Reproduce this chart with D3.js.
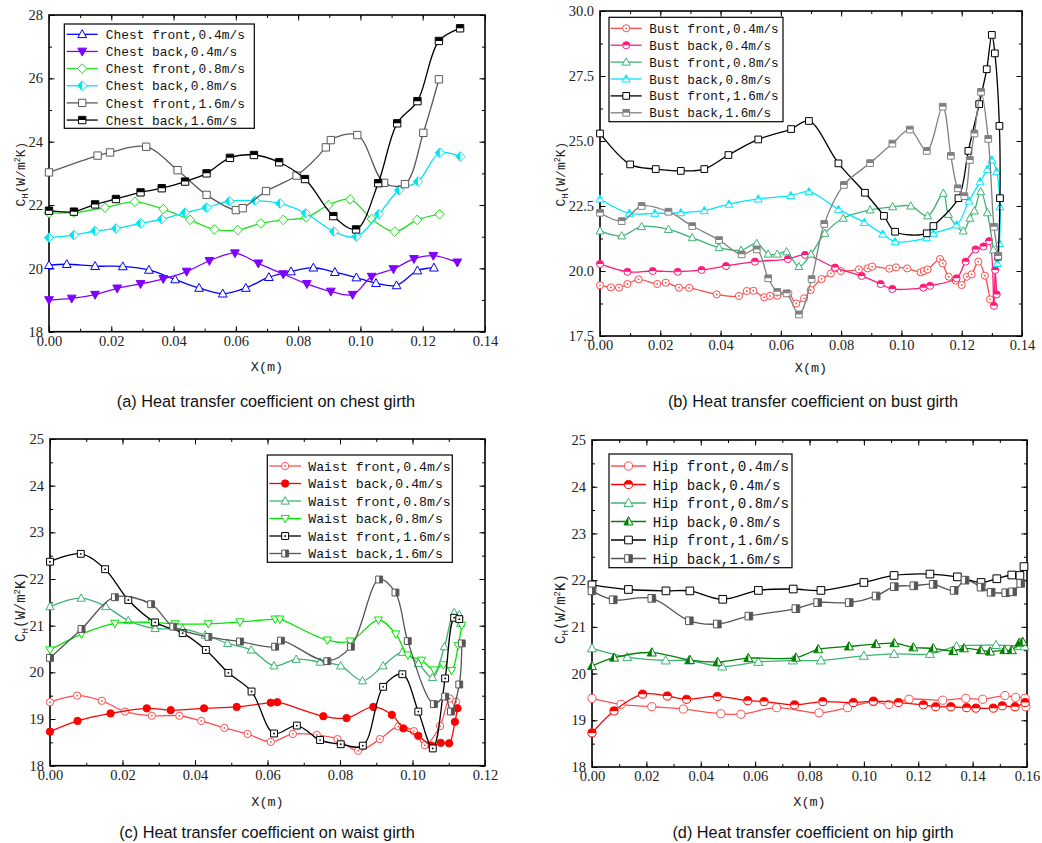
<!DOCTYPE html>
<html>
<head>
<meta charset="utf-8">
<script src="https://cdn.jsdelivr.net/npm/d3@7/dist/d3.min.js"></script>
<style>body{margin:0;background:#fff}</style>
</head>
<body>
<script>
// ---- (a) chest girth, [x (m), CH]
const chestFront04 = [[0,20.1],[0.0057,20.13],[0.0148,20.07],[0.0237,20.06],[0.0321,19.95],[0.0405,19.65],[0.0482,19.38],[0.0558,19.2],[0.0632,19.38],[0.0706,19.72],[0.0777,19.9],[0.0849,20.02],[0.0918,19.88],[0.0987,19.71],[0.105,19.53],[0.1116,19.46],[0.1183,19.93],[0.1236,20.02]];
const chestBack04 = [[0,19.0],[0.0073,19.05],[0.0148,19.17],[0.0219,19.37],[0.0294,19.51],[0.0367,19.67],[0.0442,19.9],[0.0515,20.24],[0.0597,20.48],[0.0672,20.16],[0.0752,19.82],[0.0828,19.51],[0.0905,19.27],[0.0975,19.17],[0.1036,19.74],[0.1106,19.98],[0.1172,20.3],[0.1234,20.4],[0.1311,20.19]];
const chestFront08 = [[0,21.75],[0.008,21.76],[0.018,21.92],[0.0276,22.1],[0.0367,21.87],[0.0453,21.53],[0.0531,21.23],[0.0606,21.21],[0.068,21.42],[0.0752,21.53],[0.0826,21.61],[0.0898,22.0],[0.0967,22.18],[0.1036,21.56],[0.111,21.16],[0.1182,21.53],[0.1254,21.71]];
const chestBack08 = [[0,20.97],[0.008,21.05],[0.0148,21.18],[0.0215,21.26],[0.0294,21.42],[0.0362,21.55],[0.0437,21.76],[0.0506,21.92],[0.0579,22.12],[0.0662,22.14],[0.0742,22.05],[0.0824,21.74],[0.0915,21.16],[0.0987,21.0],[0.1059,21.71],[0.1124,22.47],[0.1185,22.74],[0.1255,23.65],[0.1321,23.53]];
const chestFront16 = [[0,23.03],[0.0156,23.56],[0.0196,23.66],[0.0312,23.84],[0.0413,23.1],[0.0506,22.32],[0.06,21.84],[0.0622,21.9],[0.0697,22.44],[0.0795,22.93],[0.0889,23.82],[0.0905,24.05],[0.099,24.21],[0.1076,22.7],[0.1143,22.66],[0.1202,24.28],[0.1252,25.97]];
const chestBack16 = [[0,21.82],[0.008,21.79],[0.0148,22.02],[0.0215,22.19],[0.0294,22.4],[0.0362,22.53],[0.0437,22.74],[0.0506,23.0],[0.0581,23.49],[0.0658,23.58],[0.0739,23.35],[0.0822,22.82],[0.0913,21.65],[0.0986,21.23],[0.1057,22.69],[0.1118,24.58],[0.1183,25.28],[0.1252,27.18],[0.132,27.58]];
const chestLabels = ["Chest front,0.4m/s","Chest back,0.4m/s","Chest front,0.8m/s","Chest back,0.8m/s","Chest front,1.6m/s","Chest back,1.6m/s"];

// ---- (b) bust girth
const bustFront04 = [[0,19.45],[0.0036,19.37],[0.0063,19.36],[0.0091,19.5],[0.0128,19.68],[0.019,19.5],[0.0218,19.55],[0.0262,19.36],[0.0296,19.35],[0.0387,19.1],[0.0461,19.04],[0.0487,19.23],[0.0509,19.24],[0.0545,18.99],[0.0564,19.04],[0.0588,19.05],[0.0625,19.14],[0.0651,18.75],[0.0677,18.95],[0.0699,19.27],[0.0735,19.69],[0.0766,19.91],[0.0779,20.1],[0.0799,20.0],[0.0859,20.06],[0.0888,20.1],[0.0903,20.17],[0.096,20.09],[0.0982,20.14],[0.1019,20.1],[0.1064,19.95],[0.1075,20.0],[0.1087,20.06],[0.1128,20.46],[0.1137,20.29],[0.1157,19.78],[0.118,19.63],[0.12,19.46],[0.1217,19.78],[0.1233,19.87],[0.1255,20.36],[0.1277,19.82],[0.1294,18.91]];
const bustBack04 = [[0,20.27],[0.0091,19.97],[0.0175,20.0],[0.0258,19.97],[0.0337,20.04],[0.0418,20.19],[0.0514,20.36],[0.0623,20.46],[0.068,20.62],[0.078,20.13],[0.0868,19.81],[0.0931,19.5],[0.097,19.31],[0.1073,19.36],[0.1095,19.43],[0.1183,19.72],[0.1213,20.36],[0.1246,20.83],[0.1272,20.94],[0.1291,21.15],[0.1307,18.66],[0.1311,20.04],[0.1316,19.1]];
const bustFront08 = [[0,21.54],[0.0072,21.35],[0.0138,21.71],[0.0227,21.6],[0.0306,21.28],[0.0395,20.9],[0.0468,20.8],[0.052,21.06],[0.0558,20.65],[0.0588,20.65],[0.0619,20.74],[0.066,20.17],[0.07,20.65],[0.0746,21.45],[0.0807,22.03],[0.0896,22.35],[0.0971,22.47],[0.1031,22.5],[0.1087,22.12],[0.1139,22.99],[0.1156,22.18],[0.1205,21.54],[0.1227,22.03],[0.1242,22.31],[0.1263,23.05],[0.1285,22.24],[0.1305,20.81]];
const bustBack08 = [[0,22.77],[0.0097,22.22],[0.0182,22.22],[0.0268,22.24],[0.0346,22.32],[0.0428,22.57],[0.0525,22.77],[0.0633,22.9],[0.0693,23.05],[0.0791,22.37],[0.0877,21.87],[0.0938,21.42],[0.0979,21.13],[0.1084,21.28],[0.1106,21.45],[0.1183,21.77],[0.1224,22.69],[0.1261,23.43],[0.1285,23.91],[0.13,24.27],[0.1316,23.82],[0.1327,22.47],[0.1325,21.06],[0.1318,20.29]];
const bustFront16 = [[0,25.29],[0.01,24.1],[0.0185,23.92],[0.0268,23.85],[0.0346,23.92],[0.0426,24.46],[0.0525,25.06],[0.0634,25.46],[0.0693,25.77],[0.0791,24.14],[0.0879,23.01],[0.0942,22.12],[0.0979,21.51],[0.1084,21.45],[0.1106,21.73],[0.1189,22.8],[0.1222,24.62],[0.1258,26.42],[0.1283,27.76],[0.13,29.08],[0.131,28.37],[0.1325,25.58],[0.1327,22.8],[0.1321,20.55]];
const bustBack16 = [[0,22.24],[0.0072,21.92],[0.0138,22.5],[0.0227,22.28],[0.0306,21.73],[0.0395,21.19],[0.047,20.64],[0.052,20.83],[0.0558,19.72],[0.0588,19.2],[0.0619,19.14],[0.066,18.33],[0.0702,19.69],[0.0744,21.81],[0.0809,23.31],[0.0896,24.15],[0.097,24.9],[0.1028,25.44],[0.1084,24.62],[0.1137,26.32],[0.1164,24.43],[0.1187,23.18],[0.1209,22.88],[0.1227,24.27],[0.1242,25.29],[0.1264,26.89],[0.1288,25.08],[0.1307,21.7],[0.1321,20.58]];
const bustLabels = ["Bust front,0.4m/s","Bust back,0.4m/s","Bust front,0.8m/s","Bust back,0.8m/s","Bust front,1.6m/s","Bust back,1.6m/s"];

// ---- (c) waist girth
const waistFront04 = [[0,19.36],[0.0075,19.5],[0.0143,19.39],[0.0207,19.16],[0.0281,19.07],[0.0357,19.07],[0.0417,18.96],[0.0481,18.81],[0.0545,18.68],[0.0609,18.51],[0.067,18.68],[0.0736,18.66],[0.0793,18.57],[0.085,18.32],[0.091,18.57],[0.0961,18.84],[0.1004,18.74],[0.1034,18.44],[0.1076,18.85],[0.1103,19.44],[0.112,19.37]];
const waistBack04 = [[0,18.73],[0.0076,18.96],[0.0167,19.12],[0.0267,19.23],[0.0333,19.19],[0.0425,19.23],[0.0515,19.26],[0.0609,19.35],[0.0627,19.36],[0.0754,19.06],[0.0818,19.02],[0.0892,19.26],[0.0943,19.09],[0.0975,18.8],[0.1016,18.64],[0.1053,18.43],[0.1078,18.49],[0.1101,18.48],[0.1117,18.94],[0.1124,19.23]];
const waistFront08 = [[0,21.41],[0.0086,21.59],[0.0154,21.41],[0.0216,21.11],[0.029,20.94],[0.0366,20.93],[0.0428,20.8],[0.049,20.62],[0.0555,20.48],[0.0618,20.14],[0.0679,20.28],[0.0745,20.22],[0.0802,20.14],[0.0862,19.82],[0.0919,20.14],[0.0972,20.43],[0.1016,20.19],[0.1055,19.89],[0.1088,20.55],[0.1115,21.28],[0.1129,21.23],[0.1133,21.05]];
const waistBack08 = [[0,20.48],[0.0087,20.82],[0.0179,21.05],[0.0281,21.07],[0.0345,21.04],[0.0437,21.04],[0.0524,21.08],[0.0621,21.14],[0.0634,21.14],[0.0765,20.69],[0.0828,20.67],[0.0906,21.12],[0.0954,20.82],[0.0987,20.37],[0.1025,20.26],[0.106,20.05],[0.1085,20.16],[0.1108,20.04],[0.1126,20.57],[0.1136,21.01]];
const waistFront16 = [[0,22.37],[0.0085,22.54],[0.0152,22.21],[0.0216,21.55],[0.029,21.07],[0.0366,20.84],[0.043,20.48],[0.0492,19.99],[0.0556,19.59],[0.0618,18.69],[0.0681,18.86],[0.0745,18.55],[0.0802,18.46],[0.0863,18.43],[0.0919,19.69],[0.0972,19.96],[0.1016,19.16],[0.1056,18.37],[0.109,19.87],[0.1115,21.17],[0.1129,21.14]];
const waistBack16 = [[0,20.31],[0.0087,20.93],[0.0179,21.61],[0.0279,21.46],[0.034,20.98],[0.0437,20.76],[0.0524,20.66],[0.0621,20.55],[0.0637,20.68],[0.0765,20.24],[0.083,20.55],[0.0908,21.99],[0.0953,21.71],[0.0987,20.67],[0.1059,19.32],[0.109,19.48],[0.1106,19.16],[0.1129,19.74],[0.1136,20.62]];
const waistLabels = ["Waist front,0.4m/s","Waist back,0.4m/s","Waist front,0.8m/s","Waist back,0.8m/s","Waist front,1.6m/s","Waist back,1.6m/s"];

// ---- (d) hip girth
const hipFront04 = [[0,19.47],[0.0107,19.34],[0.022,19.29],[0.0336,19.24],[0.0474,19.14],[0.0548,19.13],[0.0679,19.27],[0.0835,19.16],[0.094,19.27],[0.1035,19.4],[0.1092,19.34],[0.1166,19.45],[0.129,19.43],[0.1375,19.47],[0.1437,19.45],[0.1519,19.53],[0.1558,19.49],[0.1593,19.47],[0.1596,19.29]];
const hipBack04 = [[0,18.73],[0.0081,19.2],[0.0186,19.56],[0.0277,19.52],[0.0348,19.45],[0.0461,19.51],[0.0573,19.42],[0.0633,19.4],[0.0745,19.33],[0.0849,19.4],[0.0961,19.38],[0.1035,19.41],[0.1127,19.38],[0.1219,19.33],[0.1264,19.29],[0.132,19.29],[0.1378,19.27],[0.1412,19.26],[0.1476,19.26],[0.1509,19.31],[0.1556,19.29],[0.1593,19.38]];
const hipFront08 = [[0,20.54],[0.013,20.35],[0.0271,20.28],[0.0357,20.28],[0.0479,20.15],[0.0612,20.25],[0.0739,20.28],[0.0842,20.28],[0.1,20.38],[0.1111,20.42],[0.1243,20.42],[0.1341,20.58],[0.1486,20.61],[0.1574,20.59],[0.159,20.58]];
const hipBack08 = [[0,20.16],[0.0081,20.34],[0.022,20.45],[0.036,20.29],[0.0462,20.25],[0.0575,20.33],[0.075,20.34],[0.0832,20.52],[0.0945,20.58],[0.1044,20.63],[0.1112,20.65],[0.1182,20.56],[0.1255,20.54],[0.1329,20.48],[0.1368,20.54],[0.143,20.5],[0.1464,20.47],[0.1517,20.5],[0.1544,20.5],[0.1572,20.66],[0.1584,20.68]];
const hipFront16 = [[0,21.9],[0.0134,21.8],[0.0272,21.77],[0.036,21.77],[0.0481,21.59],[0.0612,21.78],[0.074,21.81],[0.0842,21.78],[0.1,21.95],[0.1111,22.1],[0.1243,22.13],[0.1344,22.07],[0.1431,21.95],[0.1489,22.03],[0.1544,22.11],[0.1574,22.1],[0.1589,22.29]];
const hipBack16 = [[0,21.77],[0.0078,21.58],[0.022,21.61],[0.0358,21.13],[0.0461,21.06],[0.0577,21.23],[0.075,21.39],[0.083,21.52],[0.0946,21.52],[0.1045,21.66],[0.1112,21.86],[0.1184,21.88],[0.1255,21.91],[0.1332,21.78],[0.1372,22.0],[0.1431,21.85],[0.1468,21.74],[0.1522,21.73],[0.1547,21.75],[0.1577,21.93]];
const hipLabels = ["Hip front,0.4m/s","Hip back,0.4m/s","Hip front,0.8m/s","Hip back,0.8m/s","Hip front,1.6m/s","Hip back,1.6m/s"];

const captions = ["(a) Heat transfer coefficient on chest girth","(b) Heat transfer coefficient on bust girth","(c) Heat transfer coefficient on waist girth","(d) Heat transfer coefficient on hip girth"];

const W = 1042, H = 843;
const svg = d3.select("body").append("svg").attr("width", W).attr("height", H);

// half-fill clips in bounding box units
const defs = svg.append("defs");
[["clipTop",0,0,1,0.5],["clipLeft",0,0,0.5,1],["clipRight",0.5,0,0.5,1]].forEach(c => {
  defs.append("clipPath").attr("id", c[0]).attr("clipPathUnits", "objectBoundingBox")
    .append("rect").attr("x", c[1]).attr("y", c[2]).attr("width", c[3]).attr("height", c[4]);
});

function shapePath(shape, s) {
  if (shape == "tri") return `M0,${-s}L${s*0.95},${s*0.72}L${-s*0.95},${s*0.72}Z`;
  if (shape == "triDown") return `M0,${s}L${s*0.95},${-s*0.72}L${-s*0.95},${-s*0.72}Z`;
  if (shape == "diamond") return `M0,${-s*1.05}L${s},0L0,${s*1.05}L${-s},0Z`;
  if (shape == "square") { const a = s*0.8; return `M${-a},${-a}H${a}V${a}H${-a}Z`; }
  const r = s*0.85;
  return `M${-r},0A${r},${r} 0 1,0 ${r},0A${r},${r} 0 1,0 ${-r},0Z`;
}

function drawMarker(g, cx, cy, st, s) {
  const m = g.append("g").attr("transform", `translate(${cx},${cy})`);
  const d = shapePath(st.shape, s);
  m.append("path").attr("d", d)
    .attr("fill", st.fill == "filled" ? st.color : "#fff")
    .attr("stroke", st.color).attr("stroke-width", 1);
  if (st.fill == "top" || st.fill == "left" || st.fill == "right") {
    const id = {top: "clipTop", left: "clipLeft", right: "clipRight"}[st.fill];
    m.append("path").attr("d", d).attr("fill", st.color).attr("clip-path", `url(#${id})`);
  }
  if (st.fill == "dot") m.append("circle").attr("r", 0.9).attr("fill", st.color);
}

const panels = [
  {rect: [49, 15, 485, 331.7], xMax: 0.14, yDom: [18, 28], yStep: 2, yFmt: "d", ms: 4.6,
   data: [chestFront04, chestBack04, chestFront08, chestBack08, chestFront16, chestBack16], labels: chestLabels,
   styles: [
     {color: "#0000ff", shape: "tri", fill: "open"},
     {color: "#8000ff", shape: "triDown", fill: "filled"},
     {color: "#22e022", shape: "diamond", fill: "open"},
     {color: "#00e5f0", shape: "diamond", fill: "left"},
     {color: "#5a5a5a", shape: "square", fill: "open"},
     {color: "#000000", shape: "square", fill: "top"}],
   legend: {x0: 64.3, y0: 24, x1: 254.3, y1: 128.3, row0: 34.3, dy: 17.15, l0: 66.7, l1: 97.7, tx: 105.7, fs: 12.9},
   ylab: {x: 25, y: 174, fs: 13}, xlab: {y: 371}, cap: {x: 266, y: 407}},
  {rect: [600, 11, 1022, 336], xMax: 0.14, yDom: [17.5, 30], yStep: 2.5, yFmt: ".1f", ms: 4.2,
   data: [bustFront04, bustBack04, bustFront08, bustBack08, bustFront16, bustBack16], labels: bustLabels,
   styles: [
     {color: "#ff4a4a", shape: "circle", fill: "dot"},
     {color: "#ff1a7a", shape: "circle", fill: "top"},
     {color: "#3cb371", shape: "tri", fill: "open"},
     {color: "#00e6ff", shape: "tri", fill: "top"},
     {color: "#000000", shape: "square", fill: "open"},
     {color: "#808080", shape: "square", fill: "top"}],
   legend: {x0: 609, y0: 17.3, x1: 783, y1: 121.7, row0: 28.3, dy: 16.9, l0: 610.7, l1: 641.7, tx: 649.3, fs: 12.7},
   ylab: {x: 565, y: 174, fs: 13}, xlab: {y: 372}, cap: {x: 813, y: 407}},
  {rect: [50, 439, 485, 765.7], xMax: 0.12, yDom: [18, 25], yStep: 1, yFmt: "d", ms: 4.3,
   data: [waistFront04, waistBack04, waistFront08, waistBack08, waistFront16, waistBack16], labels: waistLabels,
   styles: [
     {color: "#ff5050", shape: "circle", fill: "dot"},
     {color: "#ff0000", shape: "circle", fill: "filled"},
     {color: "#3cb371", shape: "tri", fill: "open"},
     {color: "#00e600", shape: "triDown", fill: "open"},
     {color: "#000000", shape: "square", fill: "dot"},
     {color: "#555555", shape: "square", fill: "right"}],
   legend: {x0: 267.3, y0: 455, x1: 452.3, y1: 562.3, row0: 466, dy: 17.5, l0: 269.3, l1: 301, tx: 308.3, fs: 13.2},
   ylab: {x: 25, y: 607, fs: 14}, xlab: {y: 806}, cap: {x: 267, y: 838}},
  {rect: [592, 440, 1027, 767], xMax: 0.16, yDom: [18, 25], yStep: 1, yFmt: "d", ms: 4.8,
   data: [hipFront04, hipBack04, hipFront08, hipBack08, hipFront16, hipBack16], labels: hipLabels,
   styles: [
     {color: "#ff5050", shape: "circle", fill: "open"},
     {color: "#ff0000", shape: "circle", fill: "top"},
     {color: "#3cb371", shape: "tri", fill: "open"},
     {color: "#008000", shape: "tri", fill: "left"},
     {color: "#000000", shape: "square", fill: "open"},
     {color: "#555555", shape: "square", fill: "right"}],
   legend: {x0: 609, y0: 454, x1: 792, y1: 567.7, row0: 466, dy: 18.5, l0: 611, l1: 646, tx: 652.7, fs: 14.2},
   ylab: {x: 565, y: 609, fs: 14}, xlab: {y: 806}, cap: {x: 813, y: 838}}
];

function drawPanel(p, pi) {
  const [L, T, R, B] = p.rect;
  const x = d3.scaleLinear().domain([0, p.xMax]).range([L, R]);
  const y = d3.scaleLinear().domain(p.yDom).range([B, T]);
  const g = svg.append("g");

  const xMaj = d3.range(0, p.xMax + 1e-9, 0.02);
  const xMin = d3.range(0, p.xMax + 1e-9, 0.01);
  const yMaj = d3.range(p.yDom[0], p.yDom[1] + 1e-9, p.yStep);
  const yMin = d3.range(p.yDom[0], p.yDom[1] + 1e-9, p.yStep / 2);

  function axis(gen, vals, size, fmt, tr, pad) {
    const a = g.append("g").attr("transform", tr)
      .call(gen.tickValues(vals).tickSize(size).tickSizeOuter(0).tickFormat(fmt).tickPadding(pad));
    a.select(".domain").remove();
    a.selectAll("line").attr("stroke", "#000").attr("stroke-width", 1);
    a.selectAll("text").attr("font-family", "Liberation Serif").attr("font-size", 14.5).attr("fill", "#222");
  }
  axis(d3.axisBottom(x), xMin, -3, "", `translate(0,${B})`, 4);
  axis(d3.axisBottom(x), xMaj, -5.5, d3.format(".2f"), `translate(0,${B})`, 4);
  axis(d3.axisTop(x), xMin, -3, "", `translate(0,${T})`, 4);
  axis(d3.axisTop(x), xMaj, -5.5, "", `translate(0,${T})`, 4);
  axis(d3.axisLeft(y), yMin, -3, "", `translate(${L},0)`, 6);
  axis(d3.axisLeft(y), yMaj, -5.5, d3.format(p.yFmt), `translate(${L},0)`, 6);
  axis(d3.axisRight(y), yMin, -3, "", `translate(${R},0)`, 6);
  axis(d3.axisRight(y), yMaj, -5.5, "", `translate(${R},0)`, 6);

  g.append("rect").attr("x", L).attr("y", T).attr("width", R - L).attr("height", B - T)
    .attr("fill", "none").attr("stroke", "#000").attr("stroke-width", 1.6);

  const line = d3.line().x(d => x(d[0])).y(d => y(d[1])).curve(d3.curveCatmullRom.alpha(0.5));
  p.data.forEach((ser, i) => {
    const st = p.styles[i];
    g.append("path").datum(ser).attr("d", line).attr("fill", "none")
      .attr("stroke", st.color).attr("stroke-width", 1.3);
    ser.forEach(d => drawMarker(g, x(d[0]), y(d[1]), st, p.ms));
  });

  // legend
  const lg = p.legend;
  g.append("rect").attr("x", lg.x0).attr("y", lg.y0).attr("width", lg.x1 - lg.x0).attr("height", lg.y1 - lg.y0)
    .attr("fill", "#fff").attr("stroke", "#000").attr("stroke-width", 1.2);
  p.labels.forEach((lab, i) => {
    const ry = lg.row0 + i * lg.dy, st = p.styles[i];
    g.append("line").attr("x1", lg.l0).attr("x2", lg.l1).attr("y1", ry).attr("y2", ry)
      .attr("stroke", st.color).attr("stroke-width", 1.3);
    drawMarker(g, (lg.l0 + lg.l1) / 2, ry, st, p.ms);
    g.append("text").attr("x", lg.tx).attr("y", ry + lg.fs * 0.36)
      .attr("font-family", "Liberation Mono").attr("font-size", lg.fs).attr("fill", "#111").text(lab);
  });

  // axis titles
  const yl = g.append("text").attr("transform", `translate(${p.ylab.x},${p.ylab.y}) rotate(-90)`)
    .attr("text-anchor", "middle").attr("font-family", "Liberation Mono").attr("font-size", p.ylab.fs).attr("fill", "#222");
  yl.append("tspan").text("C");
  yl.append("tspan").attr("font-size", p.ylab.fs * 0.65).attr("dy", 3).text("H");
  yl.append("tspan").attr("dy", -3).text("(W/m");
  yl.append("tspan").attr("font-size", p.ylab.fs * 0.65).attr("dy", -5).text("2");
  yl.append("tspan").attr("dy", 5).text("K)");

  g.append("text").attr("x", (L + R) / 2).attr("y", p.xlab.y).attr("text-anchor", "middle")
    .attr("font-family", "Liberation Mono").attr("font-size", 13.5).attr("fill", "#222").text("X(m)");

  svg.append("text").attr("x", p.cap.x).attr("y", p.cap.y).attr("text-anchor", "middle")
    .attr("font-family", "Liberation Sans").attr("font-size", 16.3).attr("fill", "#111").text(captions[pi]);
}

panels.forEach(drawPanel);
</script>
</body>
</html>
